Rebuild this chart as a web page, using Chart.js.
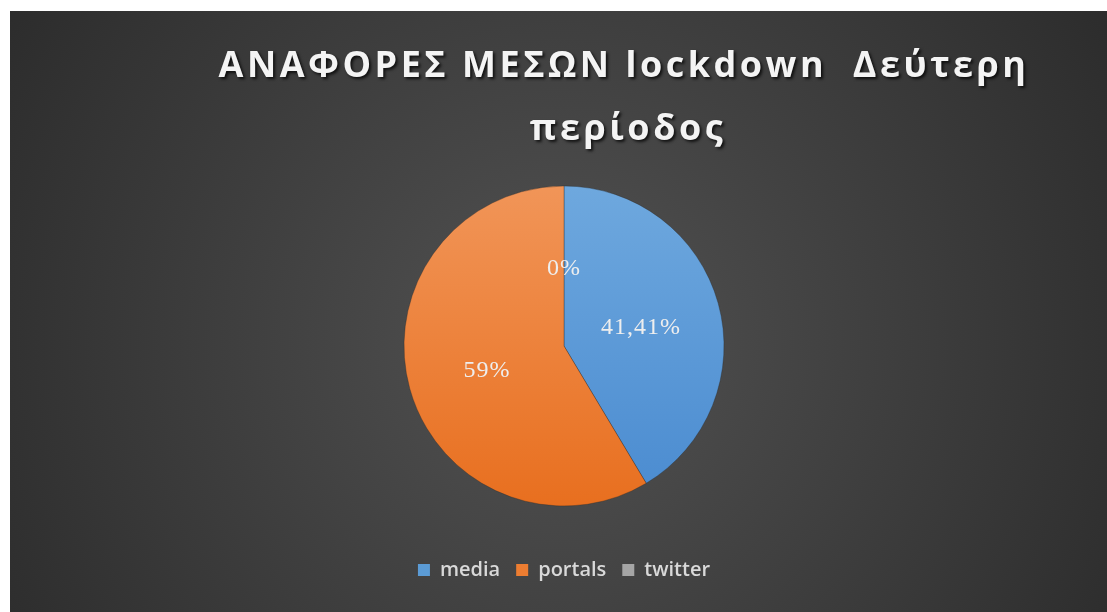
<!DOCTYPE html>
<html>
<head>
<meta charset="utf-8">
<script src="https://cdn.jsdelivr.net/npm/chart.js@4.4.0/dist/chart.umd.min.js"></script>
<style>
  html, body { margin: 0; padding: 0; background: #fff; }
  #wrap { position: absolute; left: 10px; top: 11px; width: 1097px; height: 601px; }
</style>
</head>
<body>
<div id="wrap"><canvas id="chart-area"></canvas></div>
<script>
// data
var categories = ["media", "portals", "twitter"];
var shares = [41.41, 58.59, 0];
var shareLabels = ["41,41%", "59%", "0%"];
var titleLines = ["ΑΝΑΦΟΡΕΣ ΜΕΣΩΝ lockdown  Δεύτερη", "περίοδος"];

var sliceColors = [
    ["#6ea8de", "#4a8bd0"],
    ["#f19558", "#e86f1f"],
    ["#b0b0b0", "#9a9a9a"]
];
var legendColors = ["#5b9bd5", "#ed7d31", "#a5a5a5"];

function sliceFill(context) {
    var chart = context.chart;
    var area = chart.chartArea;
    var c = sliceColors[context.dataIndex];
    if (!area) return c[1];
    var cy = (area.top + area.bottom) / 2;
    var g = chart.ctx.createLinearGradient(0, cy - 160, 0, cy + 160);
    g.addColorStop(0, c[0]);
    g.addColorStop(1, c[1]);
    return g;
}

var backdrop = {
    id: 'backdrop',
    beforeDraw: function (chart) {
        var ctx = chart.ctx, w = chart.width, h = chart.height;
        ctx.save();
        var g = ctx.createRadialGradient(w * 0.5, h * 0.55, 0, w * 0.5, h * 0.55, w * 0.62);
        g.addColorStop(0, "#525252");
        g.addColorStop(1, "#2a2a2a");
        ctx.fillStyle = g;
        ctx.fillRect(0, 0, w, h);
        ctx.restore();
    },
    afterDraw: function (chart) {
        var ctx = chart.ctx;
        ctx.save();
        ctx.textAlign = "center";
        ctx.textBaseline = "alphabetic";
        ctx.font = "bold 36px 'Open Sans'";
        ctx.letterSpacing = "3.5px";
        ctx.shadowColor = "rgba(0,0,0,0.75)";
        ctx.shadowOffsetX = 2;
        ctx.shadowOffsetY = 2;
        ctx.shadowBlur = 3;
        ctx.fillStyle = "#f4f4f4";
        ctx.fillText(titleLines[0], 614, 66);
        ctx.fillText(titleLines[1], 618, 129);
        ctx.restore();

        // slice labels
        var meta = chart.getDatasetMeta(0);
        ctx.save();
        ctx.font = "24px 'Liberation Serif'";
        ctx.letterSpacing = "1px";
        ctx.fillStyle = "#eeeeee";
        ctx.textAlign = "center";
        ctx.textBaseline = "middle";
        meta.data.forEach(function (arc, i) {
            var p = arc.tooltipPosition();
            ctx.fillText(shareLabels[i], p.x, p.y + 3);
        });
        ctx.restore();
    }
};

var config = {
    type: 'pie',
    data: {
        labels: categories,
        datasets: [{
            data: shares,
            backgroundColor: sliceFill,
            borderColor: "rgba(40,40,40,0.35)",
            borderWidth: 1,
            radius: 160
        }]
    },
    options: {
        responsive: true,
        maintainAspectRatio: false,
        animation: false,
        layout: {
            padding: { top: 137, bottom: 22, left: 11, right: 0 }
        },
        plugins: {
            tooltip: { enabled: false },
            legend: {
                display: true,
                position: 'bottom',
                labels: {
                    color: "#d9d9d9",
                    font: { family: "'Open Sans'", size: 20, weight: '600' },
                    boxWidth: 12,
                    boxHeight: 12,
                    padding: 16,
                    generateLabels: function (chart) {
                        return categories.map(function (name, i) {
                            return {
                                text: name,
                                fillStyle: legendColors[i],
                                strokeStyle: legendColors[i],
                                lineWidth: 0,
                                fontColor: "#d9d9d9",
                                index: i
                            };
                        });
                    }
                }
            }
        }
    },
    plugins: [backdrop]
};

var ctx = document.getElementById("chart-area").getContext("2d");
var myPie = new Chart(ctx, config);
</script>
</body>
</html>
